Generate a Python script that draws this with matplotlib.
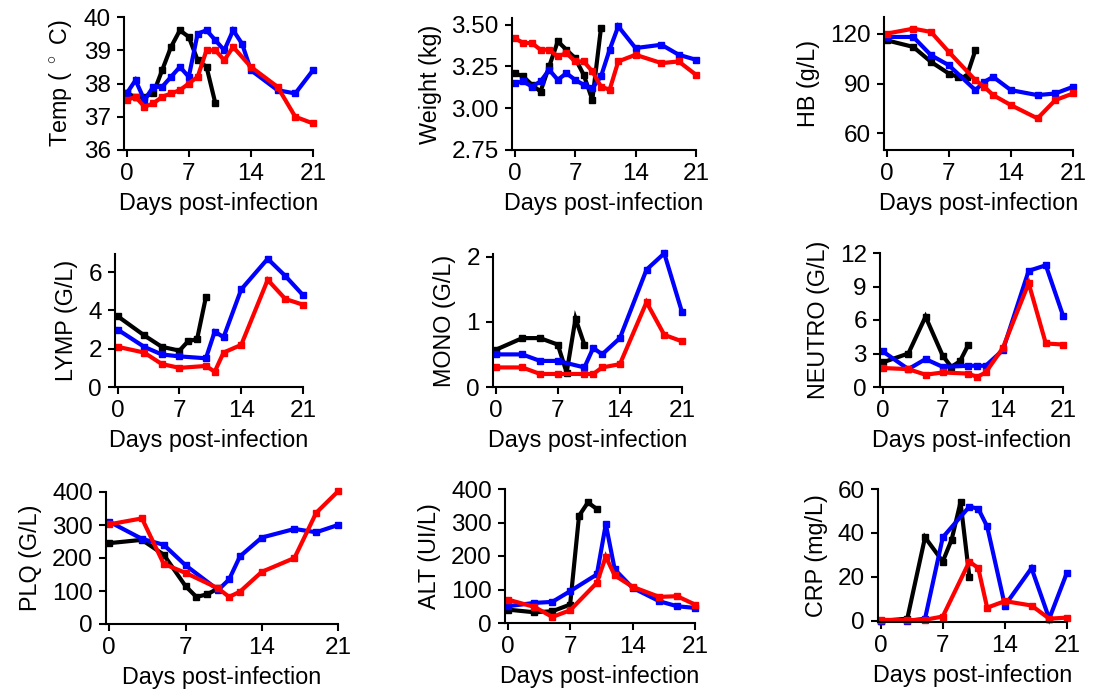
import numpy as np
import matplotlib
matplotlib.use('Agg')
import matplotlib.pyplot as plt

plt.rcParams['font.family'] = ['Liberation Sans', 'DejaVu Sans']
plt.rcParams['mathtext.fontset'] = 'custom'
plt.rcParams['mathtext.rm'] = 'Liberation Sans'

# ---- data ----
lab_days = [0, 3, 5, 7, 10, 11, 12, 14, 17, 19, 21]
lab_days_black = [0, 3, 5, 7, 8, 9, 10]

temp_days_blue = [0, 1, 2, 3, 4, 5, 6, 7, 8, 9, 10, 11, 12, 13, 14, 17, 19, 21]
temp_blue = [37.7, 38.1, 37.5, 37.9, 37.9, 38.2, 38.5, 38.2, 39.5, 39.6, 39.3, 39.0, 39.6, 39.2, 38.4, 37.8, 37.7, 38.4]
temp_days_red = [0, 1, 2, 3, 4, 5, 6, 7, 8, 9, 10, 11, 12, 14, 17, 19, 21]
temp_red = [37.5, 37.6, 37.3, 37.4, 37.6, 37.7, 37.8, 38.0, 38.2, 39.0, 39.0, 38.7, 39.1, 38.5, 37.9, 37.0, 36.8]
temp_days_black = [0, 1, 2, 3, 4, 5, 6, 7, 8, 9, 10]
temp_black = [37.7, 37.6, 37.6, 37.7, 38.4, 39.1, 39.6, 39.4, 38.7, 38.5, 37.4]

weight_days_blue = [0, 1, 2, 3, 4, 5, 6, 7, 8, 9, 10, 11, 12, 14, 17, 19, 21]
weight_blue = [3.15, 3.16, 3.13, 3.16, 3.23, 3.17, 3.21, 3.17, 3.14, 3.12, 3.19, 3.35, 3.49, 3.36, 3.38, 3.32, 3.29]
weight_days_red = [0, 1, 2, 3, 4, 5, 6, 7, 8, 9, 10, 11, 12, 14, 17, 19, 21]
weight_red = [3.42, 3.39, 3.39, 3.35, 3.35, 3.31, 3.33, 3.28, 3.28, 3.22, 3.13, 3.11, 3.28, 3.32, 3.27, 3.28, 3.20]
weight_days_black = [0, 1, 2, 3, 4, 5, 6, 7, 8, 9, 10]
weight_black = [3.21, 3.19, 3.14, 3.10, 3.25, 3.40, 3.35, 3.30, 3.20, 3.05, 3.48]

hb_blue = [118, 118, 107, 101, 86, 91, 94, 86, 83, 84, 88]
hb_red = [120, 123, 121, 109, 92, 88, 83, 77, 69, 80, 84]
hb_black = [116, 112, 103, 96, 94, 94, 110]

lymp_blue = [3.0, 2.1, 1.7, 1.6, 1.5, 2.9, 2.6, 5.1, 6.7, 5.8, 4.8]
lymp_red = [2.1, 1.8, 1.2, 1.0, 1.1, 0.8, 1.8, 2.2, 5.6, 4.6, 4.3]
lymp_black = [3.7, 2.7, 2.1, 1.9, 2.4, 2.5, 4.7]

mono_blue = [0.5, 0.5, 0.4, 0.4, 0.3, 0.6, 0.5, 0.75, 1.8, 2.05, 1.15]
mono_red = [0.3, 0.3, 0.2, 0.2, 0.2, 0.2, 0.3, 0.35, 1.3, 0.8, 0.7]
mono_black = [0.57, 0.75, 0.75, 0.65, 0.22, 1.05, 0.65]

neutro_blue = [3.2, 1.6, 2.5, 1.8, 1.9, 1.9, 1.9, 3.3, 10.4, 10.9, 6.4]
neutro_red = [1.7, 1.6, 1.1, 1.3, 1.2, 0.9, 1.3, 3.5, 9.3, 3.9, 3.8]
neutro_black = [2.2, 3.0, 6.3, 2.8, 1.8, 2.3, 3.8]

plq_blue = [310, 258, 240, 178, 103, 135, 205, 262, 288, 278, 300]
plq_red = [302, 320, 182, 155, 108, 82, 98, 158, 200, 337, 402]
plq_black = [245, 255, 210, 115, 82, 90, 108]

alt_blue = [50, 60, 63, 95, 145, 295, 160, 105, 65, 50, 45]
alt_red = [70, 48, 18, 38, 120, 198, 142, 108, 78, 80, 55]
alt_black = [40, 32, 35, 55, 320, 360, 340]

crp_blue = [0, 0, 1, 38, 52, 51, 43, 7, 24, 1, 22]
crp_red = [0.5, 0.3, 0.5, 2, 27, 24, 6, 9, 7, 1, 1.5]
crp_days_black = [0, 3, 5, 7, 8, 9, 10]
crp_black = [0, 1, 38, 27, 37, 54, 20]

BLUE = '#0000FF'
RED = '#FF0000'
BLACK = '#000000'

W, H = 1101, 690
fig = plt.figure(figsize=(W / 100, H / 100), dpi=100)


def make_ax(left, right, top, bottom):
    return fig.add_axes([left / W, 1 - bottom / H, (right - left) / W, (bottom - top) / H])


def series(ax, x, y, color):
    ax.plot(x, y, color=color, lw=3.0, marker='s', ms=4.8, mec=color, mfc=color,
            solid_joinstyle='miter', clip_on=False)


def style(ax, ylabel, ylim, yticks, yfmt=None):
    ax.set_xlim(-0.3, 21)
    ax.set_ylim(*ylim)
    ax.set_xticks([0, 7, 14, 21])
    ax.set_yticks(yticks)
    if yfmt:
        ax.set_yticklabels([yfmt.format(v) for v in yticks])
    for s in ['top', 'right']:
        ax.spines[s].set_visible(False)
    for s in ['left', 'bottom']:
        ax.spines[s].set_linewidth(1.5)
    ax.tick_params(direction='out', length=5, width=1.5, labelsize=17.5, pad=4.5)
    ax.set_xlabel('Days post-infection', fontsize=16.8, labelpad=5)
    ax.set_ylabel(ylabel, fontsize=16.8, labelpad=7)


panels = [
    # (box, ylabel, ylim, yticks, fmt, [(x, y, color), ...])
    ((124, 313, 17, 150), 'Temp ( $^\\circ$ C)', (36, 40), [36, 37, 38, 39, 40], None,
     [(temp_days_black, temp_black, BLACK), (temp_days_blue, temp_blue, BLUE), (temp_days_red, temp_red, RED)]),
    ((512, 696, 18, 150), 'Weight (kg)', (2.75, 3.54), [2.75, 3.00, 3.25, 3.50], '{:.2f}',
     [(weight_days_black, weight_black, BLACK), (weight_days_blue, weight_blue, BLUE), (weight_days_red, weight_red, RED)]),
    ((884, 1073, 17, 150), 'HB (g/L)', (50, 130), [60, 90, 120], None,
     [(lab_days_black, hb_black, BLACK), (lab_days, hb_blue, BLUE), (lab_days, hb_red, RED)]),
    ((115, 303, 254, 387), 'LYMP (G/L)', (0, 6.95), [0, 2, 4, 6], None,
     [(lab_days_black, lymp_black, BLACK), (lab_days, lymp_blue, BLUE), (lab_days, lymp_red, RED)]),
    ((493, 682, 254, 387), 'MONO (G/L)', (0, 2.04), [0, 1, 2], None,
     [(lab_days_black, mono_black, BLACK), (lab_days, mono_blue, BLUE), (lab_days, mono_red, RED)]),
    ((880, 1063, 253, 387), 'NEUTRO (G/L)', (0, 12), [0, 3, 6, 9, 12], None,
     [(lab_days_black, neutro_black, BLACK), (lab_days, neutro_blue, BLUE), (lab_days, neutro_red, RED)]),
    ((106, 338, 492, 624), 'PLQ (G/L)', (0, 400), [0, 100, 200, 300, 400], None,
     [(lab_days_black, plq_black, BLACK), (lab_days, plq_blue, BLUE), (lab_days, plq_red, RED)]),
    ((505, 695, 489, 623), 'ALT (UI/L)', (0, 400), [0, 100, 200, 300, 400], None,
     [(lab_days_black, alt_black, BLACK), (lab_days, alt_blue, BLUE), (lab_days, alt_red, RED)]),
    ((878, 1067, 489, 622), 'CRP (mg/L)', (-0.5, 60), [0, 20, 40, 60], None,
     [(crp_days_black, crp_black, BLACK), (lab_days, crp_blue, BLUE), (lab_days, crp_red, RED)]),
]

for box, ylabel, ylim, yticks, fmt, lines in panels:
    ax = make_ax(*box)
    for x, y, c in lines:
        series(ax, x, y, c)
    style(ax, ylabel, ylim, yticks, fmt)

fig.savefig('out.png', dpi=100)
